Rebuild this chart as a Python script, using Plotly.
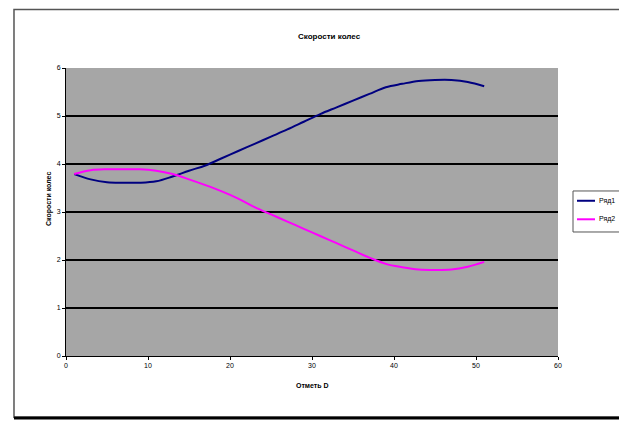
import plotly.graph_objects as go

x_vals = [1, 3, 5, 7, 9, 11, 13, 15, 17, 19, 21, 23, 25, 27, 29, 31, 33, 35, 37, 39, 41, 43, 45, 47, 49, 51]
series1 = [3.79, 3.68, 3.62, 3.61, 3.61, 3.64, 3.74, 3.86, 3.97, 4.12, 4.27, 4.42, 4.57, 4.72, 4.88, 5.04,
           5.18, 5.32, 5.46, 5.60, 5.67, 5.73, 5.75, 5.75, 5.71, 5.62]
series2 = [3.79, 3.87, 3.89, 3.89, 3.89, 3.86, 3.79, 3.68, 3.56, 3.43, 3.28, 3.10, 2.95, 2.80, 2.65, 2.50,
           2.35, 2.20, 2.05, 1.92, 1.85, 1.80, 1.79, 1.80, 1.86, 1.96]
series_names = ["Ряд1", "Ряд2"]
series_colors = ["#000080", "#FF00FF"]
title_text = "Скорости колес"
x_title = "Отметь D"
y_title = "Скорости колес"
x_ticks = [0, 10, 20, 30, 40, 50, 60]
y_ticks = [0, 1, 2, 3, 4, 5, 6]

FONT = "Liberation Sans, Arial, sans-serif"

fig = go.Figure()
for ys, nm, col in zip([series1, series2], series_names, series_colors):
    fig.add_trace(go.Scatter(x=x_vals, y=ys, mode="lines", name=nm, showlegend=False,
                             line=dict(color=col, width=2, shape="spline")))

# manual legend (compact, like Excel's)
legend_y = [0.539, 0.4747]
annotations = [
    dict(text="<b>" + title_text + "</b>", xref="paper", yref="paper", x=0.535, y=1.132,
         showarrow=False, font=dict(family=FONT, size=8, color="black")),
    dict(text="<b>" + x_title + "</b>", xref="paper", yref="paper", x=0.5, y=-0.121,
         showarrow=False, font=dict(family=FONT, size=7, color="black")),
    dict(text="<b>" + y_title + "</b>", xref="paper", yref="paper", x=-0.0467, y=0.545,
         textangle=-90, showarrow=False, font=dict(family=FONT, size=7, color="black")),
]
shapes = [
    dict(type="rect", xref="paper", yref="paper", x0=-0.1057, y0=-0.213, x1=1.16, y1=1.203,
         line=dict(color="#555555", width=1.5), layer="below"),
    dict(type="line", xref="paper", yref="paper", x0=-0.1057, y0=-0.215, x1=1.16, y1=-0.215,
         line=dict(color="black", width=3)),
    dict(type="rect", xref="paper", yref="paper", x0=1.0305, y0=0.4306, x1=1.16, y1=0.573,
         line=dict(color="#555555", width=1), fillcolor="white"),
]
for ly, nm, col in zip(legend_y, series_names, series_colors):
    shapes.append(dict(type="line", xref="paper", yref="paper", x0=1.0386, x1=1.0752, y0=ly, y1=ly,
                       line=dict(color=col, width=2)))
    annotations.append(dict(text=nm, xref="paper", yref="paper", x=1.0793, y=ly, xanchor="left",
                            yanchor="middle", showarrow=False,
                            font=dict(family=FONT, size=7, color="black")))

fig.update_layout(
    width=627, height=422,
    margin=dict(l=58, r=77, t=60, b=74, autoexpand=False),
    paper_bgcolor="white",
    plot_bgcolor="#A6A6A6",
    font=dict(family=FONT, size=7, color="black"),
    showlegend=False,
    xaxis=dict(range=[0, 60], tickvals=x_ticks, showgrid=False, zeroline=False,
               showline=True, linecolor="black", linewidth=1,
               ticks="outside", ticklen=3, tickcolor="black",
               tickfont=dict(family=FONT, size=7, color="black")),
    yaxis=dict(range=[0, 6], tickvals=y_ticks, showgrid=True, gridcolor="black", gridwidth=2,
               zeroline=False, showline=True, linecolor="black", linewidth=1,
               ticks="outside", ticklen=3, tickcolor="black",
               tickfont=dict(family=FONT, size=7, color="black")),
    annotations=annotations,
    shapes=shapes,
)

fig.write_html("out.html")
